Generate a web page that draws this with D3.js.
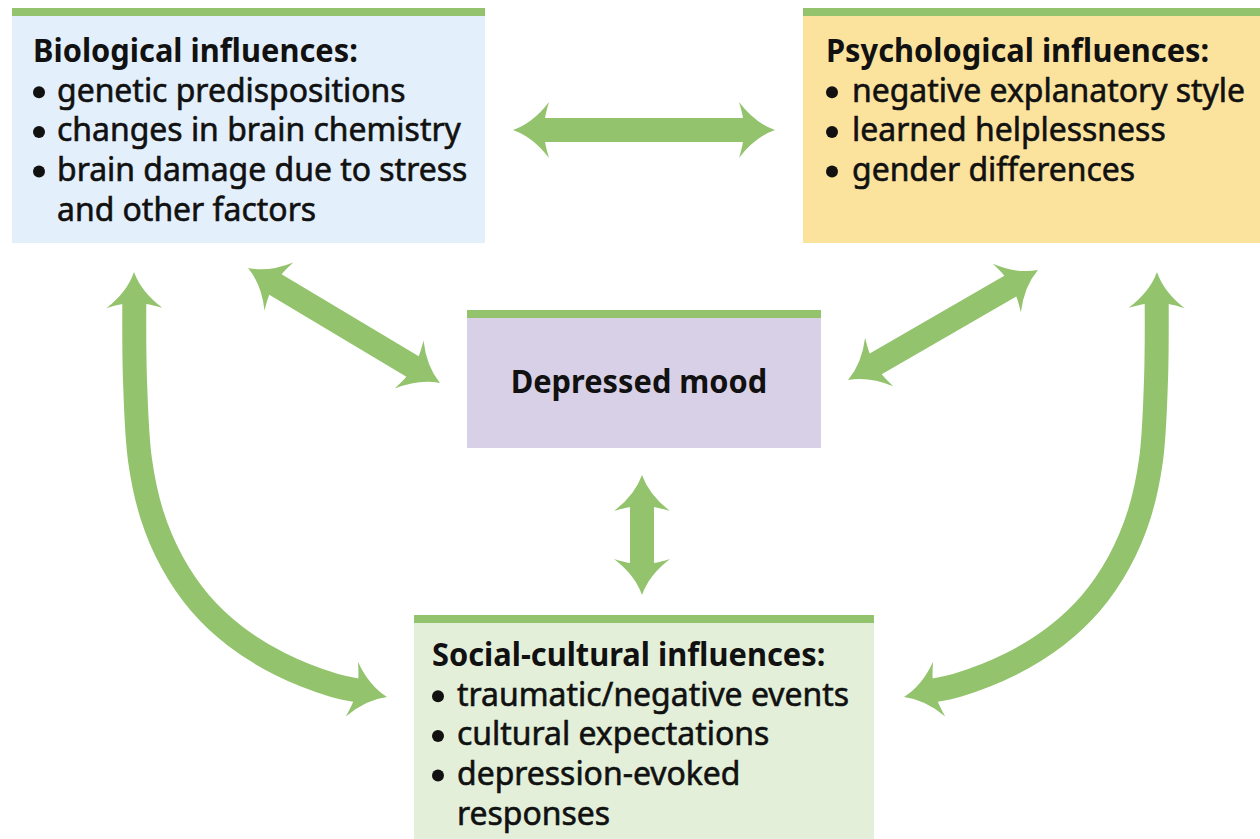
<!DOCTYPE html>
<html>
<head>
<meta charset="utf-8">
<script src="https://cdn.jsdelivr.net/npm/d3@7"></script>
<style>
  body { margin: 0; background: #fff; }
  text { font-family: "Noto Sans", "Open Sans", sans-serif; fill: #111; }
</style>
</head>
<body>
<svg id="chart"></svg>
<script>
// content
var boxIds = ["bio", "psy", "mood", "soc"];
var boxTitles = [
  "Biological influences:",
  "Psychological influences:",
  "Depressed mood",
  "Social-cultural influences:"
];
var bioItems = [
  ["genetic predispositions"],
  ["changes in brain chemistry"],
  ["brain damage due to stress", "and other factors"]
];
var psyItems = [
  ["negative explanatory style"],
  ["learned helplessness"],
  ["gender differences"]
];
var moodItems = [];
var socItems = [
  ["traumatic/negative events"],
  ["cultural expectations"],
  ["depression-evoked", "responses"]
];
var boxItems = [bioItems, psyItems, moodItems, socItems];
var links = [
  ["bio", "psy"],
  ["bio", "mood"],
  ["psy", "mood"],
  ["mood", "soc"],
  ["bio", "soc"],
  ["psy", "soc"]
];

// layout
var width = 1260, height = 839;
var green = "#93c46d";
var barH = 8, shaftW = 24, lineH = 39.7, fontSize = 32;
// widths of two reference lines, used to fit the font's set width
var titleFitWidth = 325, bodyFitWidth = 404;

var layout = {
  bio:  { x: 12,  y: 8,   w: 473, h: 235, fill: "#e3effa", tx: 33,  ty: 62,  bx: 39,  ix: 57 },
  psy:  { x: 803, y: 8,   w: 457, h: 235, fill: "#fbe39e", tx: 826, ty: 62,  bx: 832, ix: 852 },
  mood: { x: 467, y: 310, w: 354, h: 138, fill: "#d8d0e6", tx: 639, ty: 393, anchor: "middle" },
  soc:  { x: 414, y: 615, w: 460, h: 224, fill: "#e3efd9", tx: 432, ty: 666, bx: 438, ix: 457 }
};

// arrow centre lines, tip to tip
var arrowPaths = {
  "bio-psy":  [[513, 130], [775, 130]],
  "bio-mood": [[248, 268], [440, 383]],
  "psy-mood": [[1038, 270], [848, 380]],
  "mood-soc": [[642, 475], [642, 595]],
  "bio-soc":  [[134, 272], [135, 380], [140, 460], [152, 515], [172, 562],
               [200, 603], [235, 636], [280, 664], [333, 685], [387, 697]],
  "psy-soc":  [[1157, 272], [1156, 380], [1151, 460], [1139, 515], [1119, 562],
               [1091, 603], [1056, 636], [1011, 664], [958, 685], [904, 697]]
};

var svg = d3.select("#chart").attr("width", width).attr("height", height);

var boxes = boxIds.map(function (id, i) {
  return { id: id, title: boxTitles[i], items: boxItems[i], L: layout[id] };
});

// boxes
var gBox = svg.append("g");
gBox.selectAll("rect.fill")
  .data(boxes)
  .enter()
  .append("rect")
  .attr("class", "fill")
  .attr("x", function (d) { return d.L.x; })
  .attr("y", function (d) { return d.L.y; })
  .attr("width", function (d) { return d.L.w; })
  .attr("height", function (d) { return d.L.h; })
  .attr("fill", function (d) { return d.L.fill; });

gBox.selectAll("rect.bar")
  .data(boxes)
  .enter()
  .append("rect")
  .attr("class", "bar")
  .attr("x", function (d) { return d.L.x; })
  .attr("y", function (d) { return d.L.y; })
  .attr("width", function (d) { return d.L.w; })
  .attr("height", barH)
  .attr("fill", green);

// arrows
var lineGen = d3.line().curve(d3.curveCatmullRom.alpha(0.5));
var headLen = 31;
var headPath = "M0,0 Q-20,-7 -36,-28 Q-33,-18 -32,-12 L-32,12 Q-33,18 -36,28 Q-20,7 0,0 Z";

var gArrow = svg.append("g");
links.forEach(function (lk) {
  var pts = arrowPaths[lk[0] + "-" + lk[1]];
  var n = pts.length;
  var a0 = Math.atan2(pts[0][1] - pts[1][1], pts[0][0] - pts[1][0]);
  var a1 = Math.atan2(pts[n - 1][1] - pts[n - 2][1], pts[n - 1][0] - pts[n - 2][0]);
  var shaft = pts.slice(1, n - 1);
  shaft.unshift([pts[0][0] - headLen * Math.cos(a0), pts[0][1] - headLen * Math.sin(a0)]);
  shaft.push([pts[n - 1][0] - headLen * Math.cos(a1), pts[n - 1][1] - headLen * Math.sin(a1)]);

  gArrow.append("path")
    .attr("d", lineGen(shaft))
    .attr("fill", "none")
    .attr("stroke", green)
    .attr("stroke-width", shaftW);

  [[pts[0], a0], [pts[n - 1], a1]].forEach(function (h) {
    gArrow.append("path")
      .attr("d", headPath)
      .attr("fill", green)
      .attr("transform", "translate(" + h[0][0] + "," + h[0][1] + ") rotate(" + (h[1] * 180 / Math.PI) + ")");
  });
});

// text
var gText = svg.append("g");

function measure(str, weight) {
  var t = gText.append("text")
    .style("font-size", fontSize + "px")
    .style("font-weight", weight)
    .text(str);
  var w = t.node().getComputedTextLength();
  t.remove();
  return w;
}
var kTitle = titleFitWidth / measure(boxTitles[0], 700);
var kBody = bodyFitWidth / measure(bioItems[1][0], 400);

function putText(str, x, y, weight, k, anchor) {
  var t = gText.append("text")
    .attr("transform", "translate(" + x + "," + y + ") scale(" + k + ",1)")
    .attr("text-anchor", anchor || "start")
    .style("font-size", fontSize + "px")
    .style("font-weight", weight)
    .text(str);
  if (weight < 700) {
    t.attr("stroke", "#111").attr("stroke-width", 0.6);
  }
  return t;
}

boxes.forEach(function (d) {
  var L = d.L;
  putText(d.title, L.tx, L.ty, 700, kTitle, L.anchor);

  var row = 1;
  d.items.forEach(function (item) {
    gText.append("circle")
      .attr("cx", L.bx)
      .attr("cy", L.ty + row * lineH - 9.5)
      .attr("r", 6)
      .attr("fill", "#111");
    item.forEach(function (ln) {
      putText(ln, L.ix, L.ty + row * lineH, 400, kBody);
      row++;
    });
  });
});
</script>
</body>
</html>
